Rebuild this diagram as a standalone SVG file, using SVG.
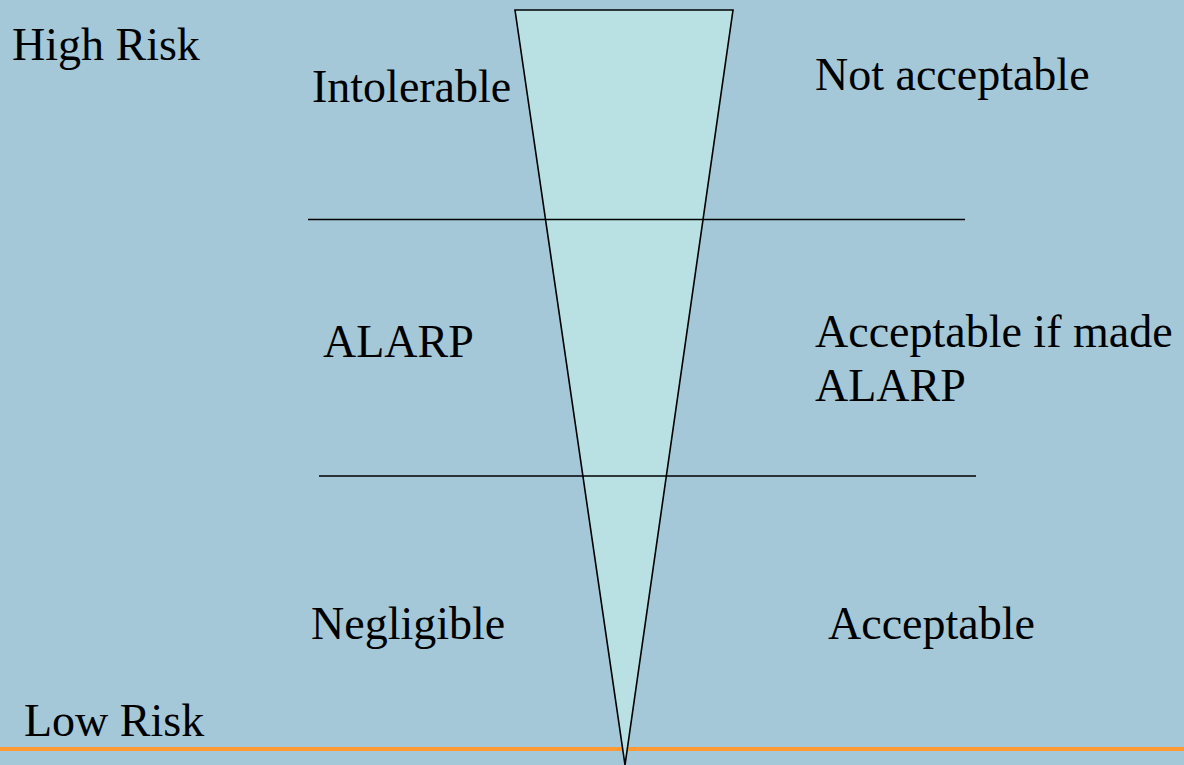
<svg xmlns="http://www.w3.org/2000/svg" width="1184" height="765" viewBox="0 0 1184 765">
  <style>
    .lbl { font-family: "Liberation Serif", "Times New Roman", serif; font-size: 46px; fill: #000; }
    .band { stroke: #000; stroke-width: 1.3; fill: none; }
  </style>
  <!-- slide background -->
  <rect x="0" y="0" width="1184" height="765" fill="#A4C8D8"/>
  <!-- orange footer rule -->
  <line x1="0" y1="749" x2="1184" y2="749" stroke="#FF9933" stroke-width="4"/>

  <!-- risk funnel -->
  <g id="funnel">
    <polygon points="515,10 733,10 625,765" fill="#B9E0E3" stroke="#000" stroke-width="1.6" stroke-linejoin="miter"/>
  </g>

  <!-- band boundaries -->
  <g id="connectors">
    <line class="band" x1="308" y1="219.5" x2="965" y2="219.5"/>
    <line class="band" x1="319" y1="476" x2="976" y2="476"/>
  </g>

  <g id="high-risk"><text class="lbl" x="12" y="60">High Risk</text></g>
  <g id="low-risk"><text class="lbl" x="24" y="736">Low Risk</text></g>

  <g id="intolerable"><text class="lbl" x="312" y="102">Intolerable</text></g>
  <g id="not-acceptable"><text class="lbl" x="815" y="90">Not acceptable</text></g>

  <g id="alarp"><text class="lbl" x="323" y="357">ALARP</text></g>
  <g id="acceptable-if-alarp">
    <text class="lbl" x="815" y="347">Acceptable if made</text>
    <text class="lbl" x="815" y="401">ALARP</text>
  </g>

  <g id="negligible"><text class="lbl" x="311" y="639">Negligible</text></g>
  <g id="acceptable"><text class="lbl" x="828" y="639">Acceptable</text></g>
</svg>
